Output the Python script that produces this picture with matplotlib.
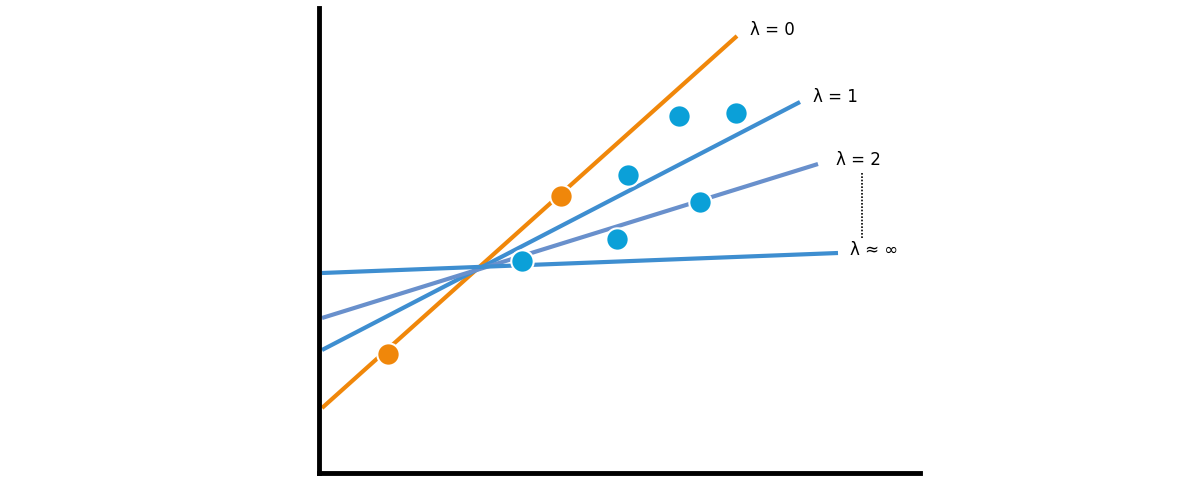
import matplotlib
matplotlib.use("Agg")
import matplotlib.pyplot as plt

# data (x, y in chart units)
line_labels = ["λ = 0", "λ = 1", "λ = 2", "λ ≈ ∞"]
line_x0 = [3, 3, 3, 3]
line_y0 = [65, 123, 155, 200]
line_x1 = [418, 481, 499, 519]
line_y1 = [437, 371, 309, 220]
line_colors = ["#F0870A", "#3E8ED0", "#6990CC", "#3E8ED0"]
label_x = [431, 494, 517, 531]
label_y = [443, 376, 313, 223]

orange_x = [69, 242]
orange_y = [119, 277]
blue_x = [203, 298, 309, 381, 360, 417]
blue_y = [212, 234, 298, 271, 357, 360]

W, H = 1200, 478
fig = plt.figure(figsize=(W/100, H/100), dpi=100)
ax = fig.add_axes([319/W, 5/H, 601/W, 465/H])
ax.set_xlim(0, 601)
ax.set_ylim(0, 465)
for s in ["top", "right"]:
    ax.spines[s].set_visible(False)
for s in ["left", "bottom"]:
    ax.spines[s].set_linewidth(3.5)
    ax.spines[s].set_color("black")
ax.set_xticks([]); ax.set_yticks([])

for x0, y0, x1, y1, c in zip(line_x0, line_y0, line_x1, line_y1, line_colors):
    ax.plot([x0, x1], [y0, y1], color=c, lw=3, solid_capstyle="butt", zorder=2)
for lab, lx, ly in zip(line_labels, label_x, label_y):
    ax.text(lx, ly, lab, fontsize=12, va="center", ha="left", family="DejaVu Sans")
ax.plot([543, 543], [235, 301], color="black", lw=1.2, ls=(0, (1, 1)))

ax.scatter(orange_x, orange_y, s=260, color="#F0870A", edgecolor="white", linewidth=1.5, zorder=3)
ax.scatter(blue_x, blue_y, s=260, color="#0BA0D8", edgecolor="white", linewidth=1.5, zorder=3)

fig.savefig("out.png", dpi=100)
